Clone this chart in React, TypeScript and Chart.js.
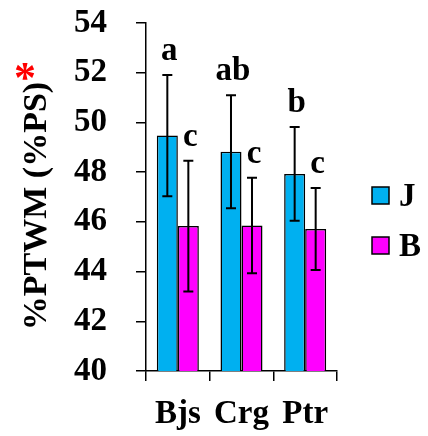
import React, { useEffect, useRef } from "react";
import { Chart, registerables } from "chart.js";

Chart.register(...registerables);

const categories = ["Bjs", "Crg", "Ptr"];
const seriesNames = ["J", "B"];
const jValues = [49.47, 48.82, 47.93];
const bValues = [45.83, 45.85, 45.71];
const jErrors = [2.44, 2.27, 1.89];
const bErrors = [2.63, 1.92, 1.65];
const jLetters = ["a", "ab", "b"];
const bLetters = ["c", "c", "c"];
const yTicks = [40, 42, 44, 46, 48, 50, 52, 54];
const yTitle = "%PTWM (%PS)";

const FONT = "'Liberation Serif', 'Times New Roman', serif";

const errorPlugin = {
  id: "errorLetters",
  afterDatasetsDraw(chart: any) {
    const { ctx } = chart;
    const y = chart.scales.y;
    chart.data.datasets.forEach((ds: any, i: number) => {
      const meta = chart.getDatasetMeta(i);
      meta.data.forEach((bar: any, j: number) => {
        const v = ds.data[j];
        const e = ds.errors[j];
        const top = y.getPixelForValue(v + e);
        const bot = y.getPixelForValue(v - e);
        const x = bar.x;
        ctx.save();
        ctx.strokeStyle = "#000";
        ctx.lineWidth = 2;
        ctx.beginPath();
        ctx.moveTo(x, top);
        ctx.lineTo(x, bot);
        ctx.moveTo(x - 5, top);
        ctx.lineTo(x + 5, top);
        ctx.moveTo(x - 5, bot);
        ctx.lineTo(x + 5, bot);
        ctx.stroke();
        ctx.fillStyle = "#000";
        ctx.font = `bold 33px ${FONT}`;
        ctx.textAlign = "center";
        ctx.textBaseline = "alphabetic";
        ctx.fillText(ds.letters[j], x + 2, top - 15);
        ctx.restore();
      });
    });
  },
  afterDraw(chart: any) {
    const { ctx } = chart;
    ctx.save();
    // legend
    chart.data.datasets.forEach((ds: any, i: number) => {
      const cy = 195 + i * 50;
      ctx.fillStyle = ds.backgroundColor;
      ctx.fillRect(372, cy - 8, 17, 17);
      ctx.strokeStyle = "#000";
      ctx.lineWidth = 1.5;
      ctx.strokeRect(372, cy - 8, 17, 17);
      ctx.fillStyle = "#000";
      ctx.font = `bold 33px ${FONT}`;
      ctx.textAlign = "left";
      ctx.textBaseline = "alphabetic";
      ctx.fillText(ds.label, 399, cy + 11);
    });
    // y title
    ctx.translate(37, 206);
    ctx.rotate(-Math.PI / 2);
    ctx.font = `bold 34px ${FONT}`;
    ctx.textAlign = "center";
    ctx.textBaseline = "middle";
    ctx.fillStyle = "#000";
    ctx.fillText(yTitle, 0, 0);
    ctx.restore();
    ctx.save();
    ctx.fillStyle = "#ff0000";
    ctx.font = `bold 44px ${FONT}`;
    ctx.textAlign = "center";
    ctx.textBaseline = "alphabetic";
    ctx.fillText("*", 25, 92);
    ctx.restore();
  },
};

export default function App() {
  const ref = useRef<HTMLCanvasElement>(null);
  useEffect(() => {
    if (!ref.current) return;
    const chart = new Chart(ref.current, {
      type: "bar",
      data: {
        labels: categories,
        datasets: [
          {
            label: seriesNames[0],
            data: jValues,
            errors: jErrors,
            letters: jLetters,
            backgroundColor: "#00B0F0",
            borderColor: "#000",
            borderWidth: 1.5,
            categoryPercentage: 0.66,
            barPercentage: 1,
          } as any,
          {
            label: seriesNames[1],
            data: bValues,
            errors: bErrors,
            letters: bLetters,
            backgroundColor: "#FF00FF",
            borderColor: "#000",
            borderWidth: 1.5,
            categoryPercentage: 0.66,
            barPercentage: 1,
          } as any,
        ],
      },
      options: {
        responsive: false,
        animation: false,
        layout: { padding: { left: 0, top: 23, right: 91, bottom: 0 } },
        plugins: { legend: { display: false }, tooltip: { enabled: false } },
        scales: {
          x: {
            grid: {
              offset: true,
              drawOnChartArea: false,
              drawTicks: true,
              tickLength: 10,
              color: "#000",
              lineWidth: 1.5,
            },
            border: { display: true, color: "#000", width: 1.5 },
            ticks: {
              color: "#000",
              font: { family: FONT, size: 33, weight: "bold" },
              padding: 14,
              maxRotation: 0,
            },
            afterFit: (s: any) => {
              s.height = 65;
              s.paddingLeft = 0;
              s.paddingRight = 0;
            },
          },
          y: {
            min: yTicks[0],
            max: yTicks[yTicks.length - 1],
            afterBuildTicks: (s: any) => {
              s.ticks = yTicks.map((v) => ({ value: v }));
            },
            grid: {
              drawOnChartArea: false,
              drawTicks: true,
              tickLength: 10,
              color: "#000",
              lineWidth: 1.5,
            },
            border: { display: true, color: "#000", width: 1.5 },
            ticks: {
              color: "#000",
              font: { family: FONT, size: 33, weight: "bold" },
              padding: 29,
            },
            afterFit: (s: any) => {
              s.width = 146;
              s.paddingTop = 0;
              s.paddingBottom = 0;
            },
          },
        },
      },
      plugins: [errorPlugin],
    });
    return () => chart.destroy();
  }, []);
  return (
    <div style={{ position: "absolute", left: 0, top: 0, width: 428, height: 436, background: "#fff" }}>
      <canvas ref={ref} width={428} height={436} style={{ width: 428, height: 436, display: "block" }} />
    </div>
  );
}
